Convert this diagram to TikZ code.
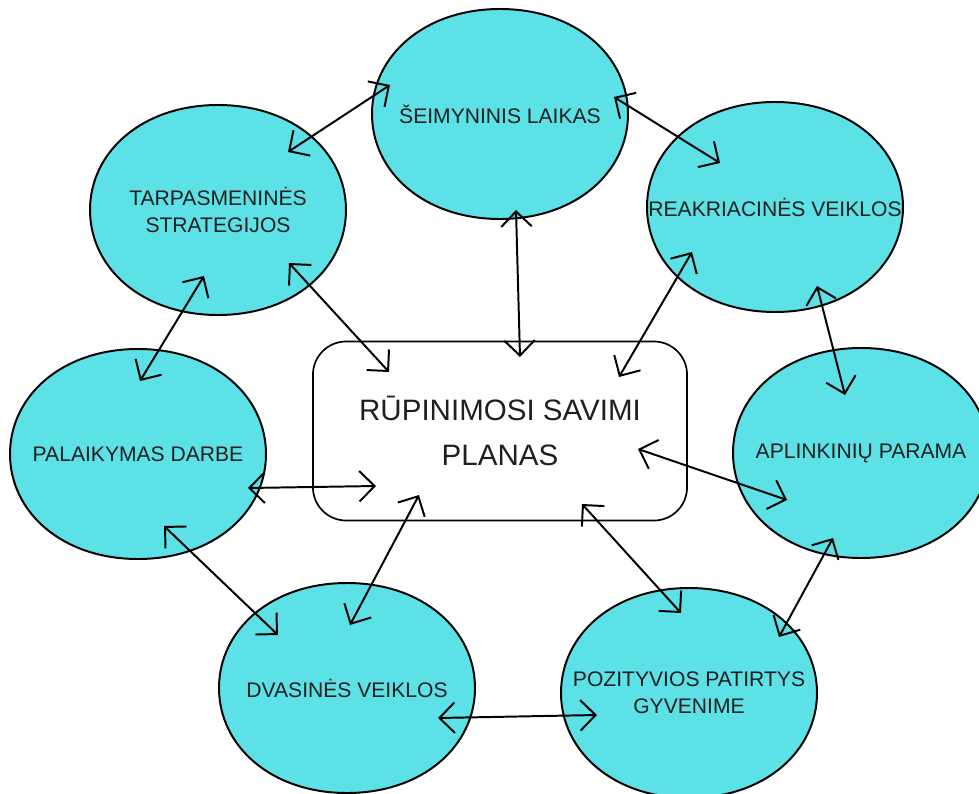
\documentclass[tikz,border=0pt]{standalone}
\usepackage{fontspec}
\setmainfont{Liberation Sans}
\usetikzlibrary{arrows.meta}
\definecolor{bubblecyan}{HTML}{5CE1E6}

\begin{document}
\begin{tikzpicture}[x=0.025cm,y=-0.025cm,
  bubble/.style={draw=black,line width=1.4pt,fill=bubblecyan},
  bubtext/.style={font=\fontsize{15}{19.5}\selectfont,text=black!88,align=center},
  link/.style={{Straight Barb[length=3.8mm,width=7.6mm]}-{Straight Barb[length=3.8mm,width=7.6mm]},line width=1.4pt}]
  \useasboundingbox (0,0) rectangle (979,794);
  \clip (0,0) rectangle (979,794);
  \foreach \nm/\px/\py/\txt in {seim/500/114/{ŠEIMYNINIS LAIKAS}, tarp/218/210/{TARPASMENINĖS\\STRATEGIJOS},
      reak/775/207/{REAKRIACINĖS VEIKLOS}, palk/138/454/{PALAIKYMAS DARBE}, apl/861/453/{APLINKINIŲ PARAMA},
      dvas/347/688/{DVASINĖS VEIKLOS}, poz/689/693/{POZITYVIOS PATIRTYS\\GYVENIME}}{
    \draw[bubble] (\px+128,\py) .. controls (\px+128,\py-58) and (\px+76,\py-105) .. (\px,\py-105)
      .. controls (\px-76,\py-105) and (\px-128,\py-58) .. (\px-128,\py)
      .. controls (\px-128,\py+58) and (\px-76,\py+105) .. (\px,\py+105)
      .. controls (\px+76,\py+105) and (\px+128,\py+58) .. (\px+128,\py) -- cycle;
    \node[bubtext] (\nm) at (\px,\py) {\txt};
  }
  \node[draw,rounded corners=0.83cm,line width=1.2pt,minimum width=9.35cm,minimum height=4.475cm,
    align=center,text=black!88,font=\fontsize{21}{32}\selectfont] (plan) at (500,431) {RŪPINIMOSI SAVIMI\\PLANAS};

  \draw[link] ([shift={(-110,-29)}]seim.center) -- ([shift={(70,-58)}]tarp.center);
  \draw[link] ([shift={(114,-17)}]seim.center) -- ([shift={(-55,-44)}]reak.center);
  \draw[link] ([shift={(16,96)}]seim.center) -- ([shift={(20,-74)}]plan.center);
  \draw[link] ([shift={(71,53)}]tarp.center) -- ([shift={(-111,-59)}]plan.center);
  \draw[link] ([shift={(-14,66)}]tarp.center) -- ([shift={(2,-73)}]palk.center);
  \draw[link] ([shift={(-83,45)}]reak.center) -- ([shift={(119,-54)}]plan.center);
  \draw[link] ([shift={(42,79)}]reak.center) -- ([shift={(-16,-58)}]apl.center);
  \draw[link] ([shift={(138,18)}]plan.center) -- ([shift={(-74,47)}]apl.center);
  \draw[link] ([shift={(110,34)}]palk.center) -- ([shift={(-124,55)}]plan.center);
  \draw[link] ([shift={(26,72)}]palk.center) -- ([shift={(-69,-53)}]dvas.center);
  \draw[link] ([shift={(3,-63)}]dvas.center) -- ([shift={(-81,64)}]plan.center);
  \draw[link] ([shift={(82,73)}]plan.center) -- ([shift={(-8,-80)}]poz.center);
  \draw[link] ([shift={(-28,85)}]apl.center) -- ([shift={(90,-56)}]poz.center);
  \draw[link] ([shift={(91,30)}]dvas.center) -- ([shift={(-92,22)}]poz.center);
\end{tikzpicture}
\end{document}
